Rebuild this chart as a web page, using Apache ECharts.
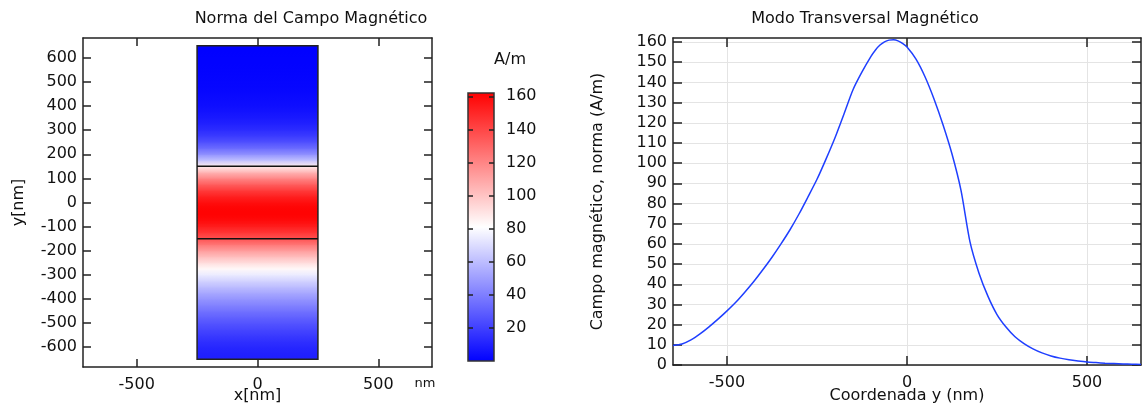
<!DOCTYPE html>
<html>
<head>
<meta charset="utf-8">
<script src="https://cdn.jsdelivr.net/npm/echarts@6/dist/echarts.min.js"></script>
<style>
  html, body { margin: 0; padding: 0; background: #fff; }
  #chart { width: 1146px; height: 407px; }
</style>
</head>
<body>
<div id="chart"></div>
<script>
// ---- Data ----
// coordinate y (nm) along the guide and magnetic field norm (A/m)
const yCoord = [-650,-625,-600,-575,-550,-525,-500,-475,-450,-425,-400,-375,-350,-325,-300,-275,-250,-225,-200,-175,-150,-125,-100,-87.5,-75,-62.5,-50,-37.5,-25,-12.5,0,25,50,75,100,125,150,175,200,225,250,275,300,325,350,375,400,425,450,475,500,525,550,575,600,625,650];
const fieldNorm = [9.7,10.4,12.4,15.4,18.9,22.7,26.8,31.2,36.2,41.5,47.3,53.4,60.0,67.0,74.8,83.3,92.0,102.0,112.6,124.4,136.4,145.2,152.9,156.1,158.5,160.1,160.95,161.1,160.6,159.3,157.5,151.5,142.8,131.8,119.0,104.5,86.5,61.0,45.5,34.0,25.0,18.8,14.0,10.6,8.0,6.0,4.5,3.4,2.6,2.0,1.5,1.2,0.9,0.7,0.5,0.4,0.3];

// geometry of the guide in the 2D map (nm)
const guideX = [-250, 250];
const guideY = [-650, 650];
const interfaces = [-150, 150];

// tick labels
const mapXTicks = [-500, 0, 500];
const mapYTicks = [-600,-500,-400,-300,-200,-100,0,100,200,300,400,500,600];
const cbarTicks = [20, 40, 60, 80, 100, 120, 140, 160];
const lineXTicks = [-500, 0, 500];
const lineYTicks = [0,10,20,30,40,50,60,70,80,90,100,110,120,130,140,150,160];

// ranges
const mapXRange = [-722, 722];
const mapYRange = [-682, 682];
const colorRange = [0, 162];
const lineXRange = [-650, 650];
const lineYRange = [0, 162];

// ---- helpers ----
function normColor(v) {
  let t = (v - colorRange[0]) / (colorRange[1] - colorRange[0]);
  t = Math.max(0, Math.min(1, t));
  let r, g, b;
  if (t < 0.5) {
    const f = t / 0.5;
    r = Math.round(255 * f); g = Math.round(255 * f); b = 255;
  } else {
    const f = (t - 0.5) / 0.5;
    r = 255; g = Math.round(255 * (1 - f)); b = Math.round(255 * (1 - f));
  }
  return 'rgb(' + r + ',' + g + ',' + b + ')';
}

const FONT = 'DejaVu Sans';
const TXT = '#111';
const AX = '#222';

const bands = [];
for (let i = 0; i < yCoord.length - 1; i++) {
  bands.push([yCoord[i], yCoord[i + 1], fieldNorm[i], fieldNorm[i + 1]]);
}

function boxAxis(extra) {
  return Object.assign({
    type: 'value',
    nameMoveOverlap: false,
    axisLine: { show: true, onZero: false, lineStyle: { color: AX, width: 1.5 } },
    axisTick: { show: true, inside: true, length: 8, lineStyle: { color: AX, width: 1.5 } },
    axisLabel: { show: false },
    splitLine: { show: false }
  }, extra);
}

const chart = echarts.init(document.getElementById('chart'), null, { renderer: 'canvas' });

const option = {
  animation: false,
  backgroundColor: '#fff',
  textStyle: { fontFamily: FONT },
  grid: [
    { left: 83, top: 38, width: 349, height: 329, outerBoundsMode: 'none', containLabel: false },
    { left: 468, top: 93, width: 26, height: 268, outerBoundsMode: 'none', containLabel: false },
    { left: 673, top: 38, width: 468, height: 327, outerBoundsMode: 'none', containLabel: false }
  ],
  xAxis: [
    boxAxis({
      gridIndex: 0, position: 'bottom', min: mapXRange[0], max: mapXRange[1],
      axisTick: { show: true, inside: true, length: 8, customValues: mapXTicks, lineStyle: { color: AX, width: 1.5 } },
      axisLabel: { show: true, customValues: mapXTicks, color: TXT, fontSize: 16, fontFamily: FONT, margin: 10 },
      name: 'x[nm]', nameLocation: 'middle', nameGap: 21,
      nameTextStyle: { color: TXT, fontSize: 16, fontFamily: FONT }
    }),
    boxAxis({
      gridIndex: 0, position: 'top', min: mapXRange[0], max: mapXRange[1],
      axisTick: { show: true, inside: true, length: 8, customValues: mapXTicks, lineStyle: { color: AX, width: 1.5 } }
    }),
    { type: 'value', gridIndex: 1, min: 0, max: 1, show: false },
    boxAxis({
      gridIndex: 2, position: 'bottom', min: lineXRange[0], max: lineXRange[1],
      axisTick: { show: true, inside: true, length: 9, customValues: lineXTicks, lineStyle: { color: AX, width: 1.5 } },
      axisLabel: { show: true, customValues: lineXTicks, color: TXT, fontSize: 16, fontFamily: FONT, margin: 10 },
      splitLine: { show: true, lineStyle: { color: '#e4e4e4', width: 1 } },
      name: 'Coordenada y (nm)', nameLocation: 'middle', nameGap: 23,
      nameTextStyle: { color: TXT, fontSize: 16, fontFamily: FONT }
    }),
    boxAxis({
      gridIndex: 2, position: 'top', min: lineXRange[0], max: lineXRange[1],
      axisTick: { show: true, inside: true, length: 9, customValues: lineXTicks, lineStyle: { color: AX, width: 1.5 } }
    })
  ],
  yAxis: [
    boxAxis({
      gridIndex: 0, position: 'left', min: mapYRange[0], max: mapYRange[1],
      axisTick: { show: true, inside: true, length: 8, customValues: mapYTicks, lineStyle: { color: AX, width: 1.5 } },
      axisLabel: { show: true, customValues: mapYTicks, color: TXT, fontSize: 16, fontFamily: FONT, margin: 6 },
      name: 'y[nm]', nameLocation: 'middle', nameGap: 56, nameRotate: 90,
      nameTextStyle: { color: TXT, fontSize: 16, fontFamily: FONT }
    }),
    boxAxis({
      gridIndex: 0, position: 'right', min: mapYRange[0], max: mapYRange[1],
      axisTick: { show: true, inside: true, length: 8, customValues: mapYTicks, lineStyle: { color: AX, width: 1.5 } }
    }),
    boxAxis({
      gridIndex: 1, position: 'left', min: colorRange[0], max: colorRange[1], z: 5,
      axisLine: { show: false },
      axisTick: { show: true, inside: true, length: 5, customValues: cbarTicks, lineStyle: { color: AX, width: 1.5 } }
    }),
    boxAxis({
      gridIndex: 1, position: 'right', min: colorRange[0], max: colorRange[1], z: 5,
      axisLine: { show: false },
      axisTick: { show: true, inside: true, length: 5, customValues: cbarTicks, lineStyle: { color: AX, width: 1.5 } },
      axisLabel: { show: true, customValues: cbarTicks, color: TXT, fontSize: 16, fontFamily: FONT, margin: 12 }
    }),
    boxAxis({
      gridIndex: 2, position: 'left', min: lineYRange[0], max: lineYRange[1],
      axisTick: { show: true, inside: true, length: 9, customValues: lineYTicks, lineStyle: { color: AX, width: 1.5 } },
      axisLabel: { show: true, customValues: lineYTicks, color: TXT, fontSize: 16, fontFamily: FONT, margin: 6 },
      splitLine: { show: true, lineStyle: { color: '#e4e4e4', width: 1 } },
      name: 'Campo magnético, norma (A/m)', nameLocation: 'middle', nameGap: 67, nameRotate: 90,
      nameTextStyle: { color: TXT, fontSize: 16, fontFamily: FONT }
    }),
    boxAxis({
      gridIndex: 2, position: 'right', min: lineYRange[0], max: lineYRange[1],
      axisTick: { show: true, inside: true, length: 9, customValues: lineYTicks, lineStyle: { color: AX, width: 1.5 } }
    })
  ],
  series: [
    {
      name: 'mapa', type: 'custom', xAxisIndex: 0, yAxisIndex: 0, z: 2,
      data: bands,
      encode: { y: [0, 1] },
      renderItem: function (params, api) {
        const y0 = api.value(0), y1 = api.value(1), v0 = api.value(2), v1 = api.value(3);
        const pTL = api.coord([guideX[0], y1]);
        const pBR = api.coord([guideX[1], y0]);
        return {
          type: 'rect',
          shape: { x: pTL[0], y: pTL[1] - 0.4, width: pBR[0] - pTL[0], height: pBR[1] - pTL[1] + 0.8 },
          style: {
            fill: new echarts.graphic.LinearGradient(0, 0, 0, 1, [
              { offset: 0, color: normColor(v1) },
              { offset: 1, color: normColor(v0) }
            ])
          }
        };
      }
    },
    {
      name: 'contorno', type: 'custom', xAxisIndex: 0, yAxisIndex: 0, z: 3,
      data: [[guideX[0], guideY[0], guideX[1], guideY[1]]],
      renderItem: function (params, api) {
        const p0 = api.coord([api.value(0), api.value(3)]);
        const p1 = api.coord([api.value(2), api.value(1)]);
        return {
          type: 'rect',
          shape: { x: p0[0], y: p0[1], width: p1[0] - p0[0], height: p1[1] - p0[1] },
          style: { fill: null, stroke: '#222', lineWidth: 1.5 }
        };
      }
    },
    {
      name: 'interfaces', type: 'custom', xAxisIndex: 0, yAxisIndex: 0, z: 3,
      data: interfaces.map(function (y) { return [y]; }),
      encode: { y: 0 },
      renderItem: function (params, api) {
        const a = api.coord([guideX[0], api.value(0)]);
        const b = api.coord([guideX[1], api.value(0)]);
        return {
          type: 'line',
          shape: { x1: a[0], y1: a[1], x2: b[0], y2: b[1] },
          style: { stroke: '#111', lineWidth: 1.5 }
        };
      }
    },
    {
      name: 'barra', type: 'custom', xAxisIndex: 2, yAxisIndex: 2, z: 2,
      data: [[colorRange[0], colorRange[1]]],
      renderItem: function (params, api) {
        const lo = api.value(0), hi = api.value(1);
        const pTL = api.coord([0, hi]);
        const pBR = api.coord([1, lo]);
        return {
          type: 'rect',
          shape: { x: pTL[0], y: pTL[1], width: pBR[0] - pTL[0], height: pBR[1] - pTL[1] },
          style: {
            fill: new echarts.graphic.LinearGradient(0, 0, 0, 1, [
              { offset: 0, color: normColor(hi) },
              { offset: 0.5, color: normColor((hi + lo) / 2) },
              { offset: 1, color: normColor(lo) }
            ]),
            stroke: '#333', lineWidth: 1.5
          }
        };
      }
    },
    {
      name: 'Campo magnético', type: 'line', xAxisIndex: 3, yAxisIndex: 4,
      data: yCoord.map(function (c, i) { return [c, fieldNorm[i]]; }),
      symbol: 'none', smooth: 0.25,
      lineStyle: { color: '#1f3fff', width: 1.5 }
    }
  ],
  graphic: [
    { type: 'text', x: 311, y: 19, style: { text: 'Norma del Campo Magnético', font: '16px "DejaVu Sans"', fill: TXT, textAlign: 'center', textVerticalAlign: 'middle' } },
    { type: 'text', x: 865, y: 19, style: { text: 'Modo Transversal Magnético', font: '16px "DejaVu Sans"', fill: TXT, textAlign: 'center', textVerticalAlign: 'middle' } },
    { type: 'text', x: 510, y: 60, style: { text: 'A/m', font: '16px "DejaVu Sans"', fill: TXT, textAlign: 'center', textVerticalAlign: 'middle' } },
    { type: 'text', x: 425, y: 384, style: { text: 'nm', font: '13px "DejaVu Sans"', fill: TXT, textAlign: 'center', textVerticalAlign: 'middle' } }
  ]
};

chart.setOption(option);
</script>
</body>
</html>
